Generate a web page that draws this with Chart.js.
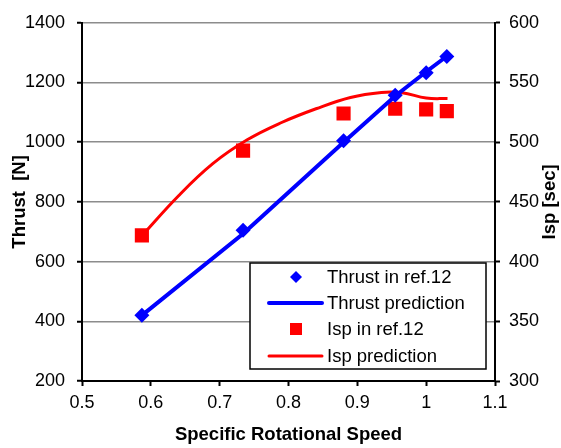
<!DOCTYPE html>
<html>
<head>
<meta charset="utf-8">
<script src="https://cdn.jsdelivr.net/npm/chart.js@4"></script>
<style>
  html, body { margin: 0; padding: 0; background: #ffffff; }
  #wrap { width: 561px; height: 448px; position: relative; }
</style>
</head>
<body>
<div id="wrap"><canvas id="c" width="561" height="448"></canvas></div>
<script>
// ---- data ----
const speedRef      = [0.587, 0.734, 0.880, 0.955, 1.000, 1.030];
const thrustRef     = [420, 705, 1005, 1157, 1233, 1287];
const thrustPred    = [420, 693, 1000, 1155, 1236, 1288];
const ispRef        = [422, 493, 524, 528, 527.5, 526];
const ispPredSpeed  = [0.587, 0.640, 0.690, 0.740, 0.790, 0.840, 0.890, 0.935, 0.965, 1.000, 1.031];
const ispPred       = [421.7, 455, 482, 502, 516.5, 528, 537.5, 541.7, 541.5, 537, 536.5];
const xRange        = [0.5, 1.1];
const thrustRange   = [200, 1400];
const ispRange      = [300, 600];
const seriesNames   = ['Thrust in ref.12', 'Thrust prediction', 'Isp in ref.12', 'Isp prediction'];
const xTitle        = 'Specific Rotational Speed';
const yTitle        = 'Thrust  [N]';
const y2Title       = 'Isp [sec]';

const pts = (xs, ys) => xs.map((x, i) => ({ x: x, y: ys[i] }));
const FONT = "'Liberation Sans', Arial, sans-serif";
const BLUE = '#0000ff';
const RED = '#ff0000';

const legendPlugin = {
  id: 'boxLegend',
  afterDraw(chart) {
    const ctx = chart.ctx;
    const x0 = 250, y0 = 263, w = 236, h = 106;
    ctx.save();
    ctx.fillStyle = '#ffffff';
    ctx.fillRect(x0, y0, w, h);
    ctx.lineWidth = 1.5;
    ctx.strokeStyle = '#000000';
    ctx.strokeRect(x0, y0, w, h);
    const rows = [277, 303, 329, 356];
    const ds = chart.data.datasets;
    rows.forEach((ry, i) => {
      const d = ds[i];
      if (d.showLine === false) {
        ctx.fillStyle = d.backgroundColor;
        if (d.pointStyle === 'rectRot') {
          ctx.beginPath();
          ctx.moveTo(296, ry - 6); ctx.lineTo(302, ry); ctx.lineTo(296, ry + 6); ctx.lineTo(290, ry);
          ctx.closePath(); ctx.fill();
        } else {
          ctx.fillRect(290, ry - 6, 12, 12);
        }
      } else {
        ctx.strokeStyle = d.borderColor;
        ctx.lineWidth = d.borderWidth;
        ctx.lineCap = 'round';
        ctx.beginPath(); ctx.moveTo(269, ry); ctx.lineTo(322, ry); ctx.stroke();
      }
      ctx.fillStyle = '#000000';
      ctx.font = '18.5px ' + FONT;
      ctx.textAlign = 'left';
      ctx.textBaseline = 'middle';
      ctx.fillText(d.label, 327, ry + 1);
    });
    ctx.restore();
  }
};

const rightTitlePlugin = {
  id: 'rightTitle',
  afterDraw(chart) {
    const ctx = chart.ctx;
    const a = chart.chartArea;
    ctx.save();
    ctx.translate(550, (a.top + a.bottom) / 2);
    ctx.rotate(-Math.PI / 2);
    ctx.font = 'bold 18.5px ' + FONT;
    ctx.fillStyle = '#000000';
    ctx.textAlign = 'center';
    ctx.textBaseline = 'middle';
    ctx.fillText(y2Title, 0, 0);
    ctx.restore();
  }
};

new Chart(document.getElementById('c'), {
  type: 'scatter',
  data: {
    datasets: [
      { label: seriesNames[0], data: pts(speedRef, thrustRef), yAxisID: 'y', showLine: false,
        pointStyle: 'rectRot', pointRadius: 7.5, pointHoverRadius: 7.5, backgroundColor: BLUE, borderColor: BLUE, borderWidth: 0 },
      { label: seriesNames[1], data: pts(speedRef, thrustPred), yAxisID: 'y', showLine: true,
        borderColor: BLUE, backgroundColor: BLUE, borderWidth: 4, pointRadius: 0, tension: 0 },
      { label: seriesNames[2], data: pts(speedRef, ispRef), yAxisID: 'y2', showLine: false,
        pointStyle: 'rect', pointRadius: 10, pointHoverRadius: 10, backgroundColor: RED, borderColor: RED, borderWidth: 0 },
      { label: seriesNames[3], data: pts(ispPredSpeed, ispPred), yAxisID: 'y2', showLine: true,
        borderColor: RED, backgroundColor: RED, borderWidth: 3, pointRadius: 0, tension: 0.4 }
    ]
  },
  options: {
    responsive: false,
    animation: false,
    events: [],
    layout: { padding: { top: 21, left: 0, right: 0, bottom: 0 } },
    plugins: { legend: { display: false }, tooltip: { enabled: false } },
    scales: {
      x: {
        type: 'linear', min: xRange[0], max: xRange[1],
        afterFit: s => { s.height = 67; },
        ticks: { stepSize: 0.1, color: '#000', font: { family: FONT, size: 18 }, padding: 6,
                 callback: v => String(Number(v.toFixed(1))) },
        grid: { display: true, drawOnChartArea: false, drawTicks: true, tickLength: 5, tickColor: '#000', tickWidth: 2 },
        border: { display: true, color: '#000', width: 2 },
        title: { display: true, text: xTitle, color: '#000', font: { family: FONT, size: 18.5, weight: 'bold' }, padding: { top: 0, bottom: 2 } }
      },
      y: {
        type: 'linear', position: 'left', min: thrustRange[0], max: thrustRange[1],
        afterFit: s => { s.width = 82; },
        ticks: { stepSize: 200, color: '#000', font: { family: FONT, size: 18 }, padding: 12,
                 callback: v => String(v) },
        grid: { color: '#8c8c8c', lineWidth: 1.5, tickLength: 5, tickColor: '#000', tickWidth: 2 },
        border: { display: true, color: '#000', width: 2 },
        title: { display: true, text: yTitle, color: '#000', font: { family: FONT, size: 18.5, weight: 'bold' }, padding: { top: 9, bottom: 0 } }
      },
      y2: {
        type: 'linear', position: 'right', min: ispRange[0], max: ispRange[1],
        afterFit: s => { s.width = 66; },
        ticks: { stepSize: 50, color: '#000', font: { family: FONT, size: 18 }, padding: 9,
                 callback: v => String(v) },
        grid: { drawOnChartArea: false, tickLength: 5, tickColor: '#000', tickWidth: 2 },
        border: { display: true, color: '#000', width: 2 }
      }
    }
  },
  plugins: [legendPlugin, rightTitlePlugin]
});
</script>
</body>
</html>
